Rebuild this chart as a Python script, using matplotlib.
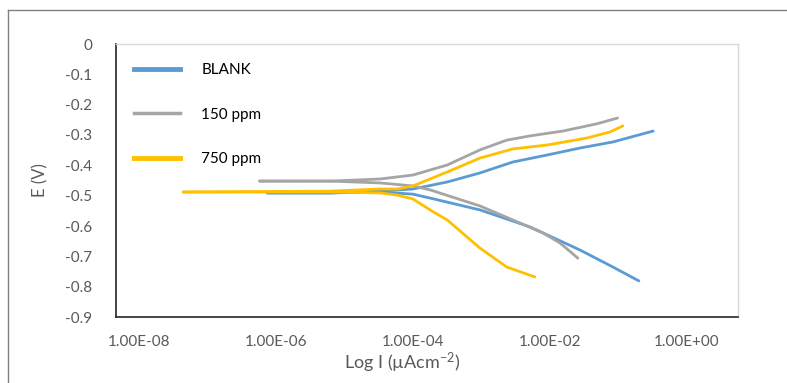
import matplotlib
matplotlib.use("Agg")
import matplotlib.pyplot as plt
from matplotlib.lines import Line2D

plt.rcParams['font.family'] = ['Lato', 'DejaVu Sans']
plt.rcParams['mathtext.fontset'] = 'custom'
plt.rcParams['mathtext.rm'] = 'Lato'
plt.rcParams['mathtext.default'] = 'regular'

# ---- data (current, A/cm2 on log axis ; potential E in V) ----
blank_cath_I = [7.4e-7, 6.17e-6, 3.31e-5, 1.0e-4, 1.78e-4, 9.55e-4, 5.13e-3, 2.75e-2, 8.32e-2, 0.200]
blank_cath_E = [-0.491, -0.491, -0.488, -0.495, -0.508, -0.547, -0.603, -0.679, -0.735, -0.781]
blank_anod_I = [7.4e-7, 6.17e-6, 3.31e-5, 1.0e-4, 3.16e-4, 9.55e-4, 2.88e-3, 9.12e-3, 2.75e-2, 8.32e-2, 0.324]
blank_anod_E = [-0.491, -0.491, -0.485, -0.478, -0.455, -0.425, -0.389, -0.366, -0.343, -0.323, -0.287]

p150_cath_I = [5.75e-7, 6.17e-6, 3.31e-5, 1.0e-4, 1.78e-4, 9.55e-4, 2.88e-3, 7.94e-3, 1.41e-2, 2.57e-2]
p150_cath_E = [-0.452, -0.452, -0.458, -0.468, -0.481, -0.534, -0.580, -0.623, -0.656, -0.706]
p150_anod_I = [5.75e-7, 6.17e-6, 3.31e-5, 1.0e-4, 3.16e-4, 9.55e-4, 2.34e-3, 5.13e-3, 1.55e-2, 4.90e-2, 9.77e-2]
p150_anod_E = [-0.452, -0.452, -0.445, -0.432, -0.399, -0.349, -0.317, -0.303, -0.287, -0.263, -0.244]

p750_cath_I = [4.37e-8, 6.17e-6, 3.31e-5, 5.89e-5, 1.0e-4, 1.78e-4, 3.16e-4, 9.55e-4, 2.34e-3, 6.03e-3]
p750_cath_E = [-0.488, -0.488, -0.491, -0.498, -0.511, -0.547, -0.580, -0.673, -0.735, -0.768]
p750_anod_I = [4.37e-8, 6.17e-6, 3.31e-5, 5.89e-5, 1.0e-4, 3.16e-4, 9.55e-4, 2.88e-3, 9.12e-3, 3.47e-2, 7.59e-2, 0.117]
p750_anod_E = [-0.488, -0.485, -0.478, -0.478, -0.468, -0.422, -0.376, -0.346, -0.333, -0.310, -0.290, -0.270]

series_names = ["BLANK", "150 ppm", "750 ppm"]
series_colors = ["#5b9bd5", "#a5a5a5", "#ffc000"]

x_ticks = [1e-8, 1e-6, 1e-4, 1e-2, 1e0]
x_tick_labels = ["1.00E-08", "1.00E-06", "1.00E-04", "1.00E-02", "1.00E+00"]
y_ticks = [0, -0.1, -0.2, -0.3, -0.4, -0.5, -0.6, -0.7, -0.8, -0.9]
y_tick_labels = ["0", "-0.1", "-0.2", "-0.3", "-0.4", "-0.5", "-0.6", "-0.7", "-0.8", "-0.9"]

# ---- figure ----
fig = plt.figure(figsize=(7.87, 3.83), dpi=100)
ax = fig.add_axes([116/787, 1-317/383, (738-116)/787, (317-44)/383])

data = [
    (blank_cath_I, blank_cath_E, blank_anod_I, blank_anod_E),
    (p150_cath_I, p150_cath_E, p150_anod_I, p150_anod_E),
    (p750_cath_I, p750_cath_E, p750_anod_I, p750_anod_E),
]
for (ci, ce, ai, ae), col in zip(data, series_colors):
    ax.plot(ci, ce, color=col, lw=2, solid_capstyle='round', solid_joinstyle='round')
    ax.plot(ai, ae, color=col, lw=2, solid_capstyle='round', solid_joinstyle='round')

ax.set_xscale('log')
ax.set_xlim(10**-8.34, 10**0.75)
ax.set_ylim(-0.9, 0)
ax.set_xticks(x_ticks)
ax.set_xticklabels(x_tick_labels)
ax.minorticks_off()
ax.set_yticks(y_ticks)
ax.set_yticklabels(y_tick_labels)
ax.tick_params(axis='both', length=0, labelsize=11, colors='#595959')
ax.tick_params(axis='x', pad=13)
ax.tick_params(axis='y', pad=17)

for s in ['top', 'right']:
    ax.spines[s].set_color('#d9d9d9')
    ax.spines[s].set_linewidth(1)
for s in ['left', 'bottom']:
    ax.spines[s].set_color('#262626')
    ax.spines[s].set_linewidth(1.2)

ax.set_ylabel("E (V)", fontsize=12, color='#595959')
ax.yaxis.set_label_coords(-68/622, 0.5)
ax.set_xlabel("Log I (\u00b5Acm$^{-2}$)", fontsize=13, color='#595959')
ax.xaxis.set_label_coords((402-116)/622, -(363-317)/273)
ax.xaxis.label.set_verticalalignment('center')

handles = [Line2D([], [], color=c, lw=w) for c, w in zip(series_colors, [3.5, 2.5, 3.5])]
fig.legend(handles, series_names, loc='upper left',
           bbox_to_anchor=(134/787, 1-63/383), frameon=False, fontsize=11,
           handlelength=3.0, handletextpad=1.4, labelspacing=2.0,
           borderpad=0, borderaxespad=0)

# outer frame
fig.add_artist(Line2D([8/787, 8/787], [0, 1-10/383], transform=fig.transFigure, color='#808080', lw=1))
fig.add_artist(Line2D([8/787, 1], [1-10/383, 1-10/383], transform=fig.transFigure, color='#808080', lw=1))

fig.savefig("out.png", dpi=100)
